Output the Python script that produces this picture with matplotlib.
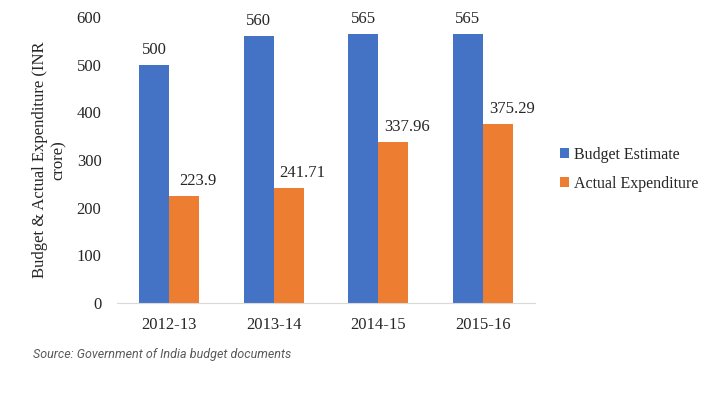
import numpy as np
import matplotlib.pyplot as plt

years = ['2012-13', '2013-14', '2014-15', '2015-16']
budget = [500, 560, 565, 565]
actual = [223.9, 241.71, 337.96, 375.29]
budget_labels = ['500', '560', '565', '565']
actual_labels = ['223.9', '241.71', '337.96', '375.29']

plt.rcParams['font.family'] = ['Liberation Serif', 'DejaVu Serif']

fig = plt.figure(figsize=(7.25, 3.93), dpi=100)
ax = fig.add_axes([0.161, 0.229, 0.577, 0.728])

x = np.arange(len(years))
w = 0.286
b1 = ax.bar(x - w / 2, budget, w, color='#4472C4', label='Budget Estimate')
b2 = ax.bar(x + w / 2, actual, w, color='#ED7D31', label='Actual Expenditure')

for rect, lab in zip(b1, budget_labels):
    ax.annotate(lab, (rect.get_x() + rect.get_width() / 2, rect.get_height()),
                xytext=(0, 5), textcoords='offset points',
                ha='center', va='bottom', fontsize=12, color='#262626')
for rect, lab in zip(b2, actual_labels):
    ax.annotate(lab, (rect.get_x() + rect.get_width() / 2, rect.get_height()),
                xytext=(10, 5), textcoords='offset points',
                ha='center', va='bottom', fontsize=12, color='#262626')

ax.set_xlim(-0.5, 3.5)
ax.set_ylim(0, 600)
ax.set_yticks(range(0, 601, 100))
ax.set_xticks(x)
ax.set_xticklabels(years)
ax.tick_params(axis='both', length=0, labelsize=12, colors='#262626')
ax.tick_params(axis='y', pad=11)
ax.tick_params(axis='x', pad=10)
for s in ['top', 'right', 'left']:
    ax.spines[s].set_visible(False)
ax.spines['bottom'].set_color('#D9D9D9')

ax.set_ylabel('Budget & Actual Expenditure (INR\ncrore)', fontsize=12,
              color='#262626', linespacing=1.2, labelpad=7)

ax.legend(loc='center left', bbox_to_anchor=(1.025, 0.467), frameon=False,
          fontsize=11.5, handlelength=0.6, handleheight=0.6, handletextpad=0.3,
          labelspacing=0.8, labelcolor='#262626')

fig.text(0.045, 0.09, 'Source: Government of India budget documents',
         family=['Roboto', 'DejaVu Sans'], style='italic',
         fontsize=9, color='#595959')

fig.savefig('out.png', dpi=100)
